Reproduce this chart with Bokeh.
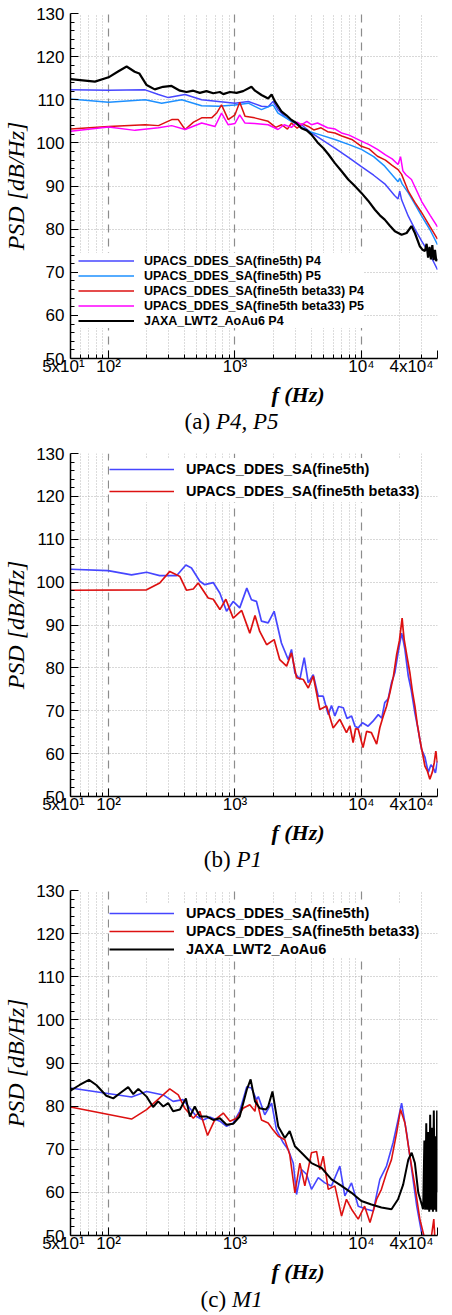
from bokeh.plotting import figure
from bokeh.models import (FixedTicker, Grid, Legend, LegendItem, Range1d)
from bokeh.layouts import column
from bokeh.embed import file_html
from bokeh.resources import INLINE
from bokeh.core.properties import value

# ---------------- data ----------------
X_MAJOR = [50, 100, 1000, 10000, 40000]
X_LABELS = {50: "5x10\u00b9\u00a0\u00a0\u00a0", 100: "10\u00b2", 1000: "10\u00b3",
            10000: "10\u2074", 40000: "4x10\u2074\u00a0\u00a0\u00a0\u00a0"}
X_MINOR = [60, 70, 80, 90, 200, 300, 400, 500, 600, 700, 800, 900,
           2000, 3000, 4000, 5000, 6000, 7000, 8000, 9000, 20000, 30000]
X_DOTTED = X_MINOR + [40000]
X_DASHED = [100, 1000, 10000]
Y_MAJOR = [50, 60, 70, 80, 90, 100, 110, 120, 130]
Y_MINOR = [52, 54, 56, 58, 62, 64, 66, 68, 72, 74, 76, 78, 82, 84, 86, 88,
           92, 94, 96, 98, 102, 104, 106, 108, 112, 114, 116, 118, 122, 124, 126, 128]
X_TITLE = "f (Hz)"
Y_TITLE = "PSD [dB/Hz]"
CAPTIONS = [("(a)", "P4, P5"), ("(b)", "P1"), ("(c)", "M1")]

# (a) P4, P5
A_BLACK_F = [50, 78, 100, 118, 139, 161, 175, 200, 232, 270, 315, 367, 414, 468, 527, 595, 673,
             760, 808, 912, 1030, 1160, 1350, 1440, 1620, 1830, 1950, 2070, 2330, 2550, 2800,
             3050, 3360, 3700, 4030, 4500, 4990, 5500, 6170, 6900, 7870, 8800, 10000, 11300,
             12800, 14000, 15300, 16800, 18400, 20800, 22800, 24900, 26500, 29000, 30500,
             31800, 32800, 33700, 34600, 35500, 36400, 37300, 38200, 39100, 40000]
A_BLACK = [114.8, 114.2, 115.2, 116.5, 117.7, 116.5, 116.1, 113.4, 112.4, 113.0, 113.2, 112.1,
           111.8, 112.1, 111.6, 112.0, 111.5, 111.8, 111.3, 111.8, 111.6, 112.0, 113.0, 112.1,
           111.1, 110.3, 111.2, 109.6, 107.3, 106.4, 105.3, 104.6, 103.4, 102.9, 101.9, 100.1,
           98.8, 97.3, 95.3, 93.6, 91.5, 90.1, 88.4, 86.6, 84.5, 83.2, 82.2, 80.8, 79.5, 78.7,
           79.1, 80.7, 79.1, 76.0, 75.2, 74.9, 76.6, 73.4, 75.9, 73.0, 76.3, 72.8, 75.2, 72.6, 73.2]
A_P4_F = [50, 100, 195, 248, 297, 403, 545, 738, 1000, 1275, 1620, 1830, 2000, 2190, 2500, 2800,
          3360, 4030, 5000, 6170, 8000, 10000, 12500, 15300, 18300, 19500, 20100, 20800, 23500,
          26500, 30000, 35000, 40000]
A_P4 = [112.3, 112.2, 112.3, 111.2, 110.5, 111.2, 110.0, 109.6, 109.2, 109.6, 108.5, 108.4,
        109.6, 107.7, 106.0, 105.0, 104.2, 102.3, 100.5, 98.8, 96.5, 94.5, 92.5, 90.5, 87.8,
        87.0, 88.8, 86.8, 83.0, 80.0, 77.2, 74.0, 70.6]
A_P5_F = [50, 100, 195, 263, 379, 545, 738, 1000, 1275, 1620, 2000, 2190, 2800, 3800, 4800,
          6170, 8000, 10000, 12500, 15300, 19500, 20100, 21000, 23500, 26500, 30000, 35000, 40000]
A_P5 = [110.2, 109.4, 110.0, 109.2, 110.0, 108.6, 108.5, 108.8, 109.2, 107.7, 108.8, 106.9,
        105.0, 102.7, 101.8, 100.8, 99.6, 98.5, 96.8, 94.6, 91.0, 91.8, 90.5, 88.4, 85.8, 83.0,
        79.8, 76.4]
A_B33P4_F = [50, 100, 195, 248, 316, 356, 403, 470, 545, 654, 720, 783, 885, 1000, 1090, 1200,
             1430, 1830, 2100, 2340, 2600, 2800, 3100, 3400, 3800, 4200, 4800, 5400, 6170, 7000,
             8400, 10000, 11500, 13400, 15500, 17500, 19500, 20800, 23500, 26500, 30000, 35000,
             40000]
A_B33P4 = [103.2, 103.8, 104.2, 104.0, 105.4, 105.4, 103.1, 104.8, 105.8, 105.8, 107.0, 108.8,
           105.4, 106.5, 109.4, 106.2, 105.8, 105.0, 103.6, 104.2, 103.2, 104.6, 103.4, 104.4,
           103.8, 103.0, 103.5, 102.6, 102.3, 101.6, 100.8, 99.2, 98.6, 96.9, 96.0, 94.8, 93.8,
           92.7, 88.8, 86.2, 83.8, 80.5, 77.7]
A_B33P5_F = [50, 100, 162, 248, 316, 403, 545, 695, 783, 885, 1000, 1090, 1200, 1430, 1830, 2190,
             2450, 2800, 3100, 3360, 3700, 4030, 4500, 5400, 6200, 6960, 8000, 10000, 11500,
             13400, 15500, 17500, 19500, 20400, 21300, 22500, 24900, 30000, 35000, 40000]
A_B33P5 = [102.7, 103.7, 102.9, 103.5, 104.0, 103.1, 104.6, 103.8, 106.9, 104.2, 104.5, 106.5,
           104.6, 104.5, 104.2, 103.1, 104.2, 103.6, 104.8, 104.2, 105.0, 104.2, 104.6, 103.5,
           103.2, 102.3, 101.8, 100.4, 99.6, 98.5, 97.2, 96.3, 95.0, 96.8, 93.5, 92.6, 91.5,
           86.4, 83.2, 80.5]

# (b) P1
B_FINE_F = [50, 99, 152, 200, 254, 345, 409, 453, 527, 577, 673, 760, 858, 968, 1090, 1240, 1350,
            1480, 1620, 1830, 2040, 2330, 2640, 2800, 2980, 3260, 3530, 3800, 4160, 4560, 4990,
            5470, 5800, 6170, 6600, 7190, 7700, 8360, 8900, 9440, 10200, 11300, 12300, 13600,
            14500, 15300, 16300, 17300, 18400, 19500, 20800, 21500, 22100, 23500, 24800, 26500,
            28000, 29900, 31800, 33800, 35500, 37000, 38500, 40000]
B_FINE = [103.0, 102.7, 101.7, 102.3, 101.5, 101.5, 104.0, 103.3, 100.2, 99.4, 99.9, 97.4, 93.2,
          95.5, 94.0, 98.6, 95.9, 95.5, 90.9, 90.5, 93.2, 85.8, 81.9, 84.3, 78.8, 77.3, 82.4,
          76.5, 78.4, 73.4, 73.4, 69.1, 71.2, 68.8, 71.0, 70.7, 68.2, 68.8, 66.4, 66.0, 67.2,
          66.4, 67.5, 69.1, 68.3, 71.9, 72.8, 76.5, 78.9, 83.5, 88.1, 86.2, 84.3, 78.1, 74.8,
          69.5, 65.9, 61.0, 59.2, 55.6, 57.4, 56.7, 55.5, 58.3]
B_B33_F = [50, 200, 254, 305, 367, 414, 468, 512, 614, 673, 760, 847, 968, 1130, 1310, 1440, 1570,
           1780, 2040, 2260, 2560, 2800, 3070, 3470, 3800, 4160, 4690, 5300, 5980, 6750, 7620,
           8100, 8600, 9000, 9440, 10300, 11000, 12000, 13200, 14000, 14900, 15800, 16800, 17900,
           19000, 20000, 21000, 21400, 21800, 23000, 24200, 25300, 26500, 27700, 29000, 30400,
           31800, 33300, 34800, 36500, 37700, 38800, 40000]
B_B33 = [98.1, 98.2, 99.8, 102.5, 101.3, 98.1, 98.4, 99.8, 96.3, 96.0, 93.6, 96.0, 91.6, 93.4,
         88.1, 92.2, 88.5, 85.4, 86.6, 81.9, 80.4, 83.5, 77.7, 77.3, 75.3, 78.1, 70.3, 71.1,
         66.0, 68.0, 64.9, 66.5, 62.6, 65.8, 65.7, 61.4, 65.2, 64.9, 62.2, 66.1, 68.8, 71.0,
         74.2, 77.9, 83.1, 86.4, 91.6, 88.9, 86.6, 82.5, 78.8, 74.6, 71.1, 66.8, 63.3, 60.2,
         57.1, 55.9, 54.0, 55.8, 57.9, 60.6, 57.9]

# (c) M1
C_FINE_F = [50, 152, 200, 271, 324, 389, 440, 496, 561, 633, 760, 858, 968, 1090, 1240, 1350,
            1480, 1530, 1720, 1950, 2130, 2410, 2640, 2890, 3070, 3360, 3680, 4030, 4560, 5140,
            5800, 6750, 7400, 8360, 9440, 11000, 12400, 14000, 15800, 17800, 19500, 20800,
            22800, 25000, 27400, 29900, 32000, 40000]
C_FINE = [84.2, 82.1, 83.4, 82.6, 81.1, 81.5, 79.5, 77.6, 76.8, 77.5, 76.5, 75.3, 76.1, 78.8,
          84.5, 84.2, 81.5, 82.2, 78.0, 80.7, 74.5, 71.5, 69.9, 66.8, 59.5, 65.3, 64.2, 60.7,
          63.4, 62.2, 61.5, 66.1, 59.2, 62.2, 56.8, 56.1, 55.7, 63.0, 66.1, 71.5, 76.8, 80.7,
          73.8, 65.3, 56.8, 50.7, 48.0, 45.0]
C_B33_F = [50, 152, 200, 305, 356, 401, 468, 527, 607, 692, 808, 912, 1030, 1160, 1310, 1440,
           1480, 1620, 1830, 2000, 2200, 2480, 2710, 2980, 3260, 3570, 4030, 4420, 4690, 4990,
           5470, 6170, 6970, 7620, 8360, 9440, 10600, 11700, 13200, 14400, 15800, 17300, 19000,
           20400, 22100, 24200, 26500, 29000, 30800, 33000, 35500, 37400, 38500, 40000]
C_B33 = [79.8, 77.0, 79.2, 84.0, 82.6, 79.5, 77.2, 78.8, 73.2, 76.8, 78.4, 76.5, 77.2, 79.5,
         80.3, 78.8, 81.5, 76.8, 76.1, 74.5, 73.0, 72.2, 68.8, 59.9, 66.8, 61.5, 69.2, 69.5,
         65.3, 68.4, 60.7, 61.5, 54.5, 58.4, 56.1, 53.8, 56.8, 53.0, 58.4, 60.7, 64.5, 67.6,
         73.8, 79.2, 76.1, 68.4, 61.5, 53.8, 50.7, 47.0, 49.0, 53.8, 47.0, 49.0]
C_JAXA_F = [50, 59, 70, 80, 96, 109, 123, 143, 157, 172, 200, 225, 247, 271, 296, 324, 367, 409,
            440, 481, 527, 595, 673, 760, 858, 968, 1090, 1240, 1330, 1440, 1570, 1750, 1830,
            1980, 2200, 2480, 2710, 2980, 3360, 4030, 4840, 5800, 6970, 8360, 10000, 12000,
            14400, 17300, 19500, 21400, 23500, 25000, 26500, 28200, 30800, 31500, 32000, 32600,
            33200, 33800, 34400, 35000, 35600, 36200, 36800, 37400, 38000, 38600, 39200, 39700,
            40000]
C_JAXA = [83.6, 84.9, 86.1, 84.9, 82.4, 81.8, 83.0, 84.4, 82.8, 84.0, 82.2, 79.8, 81.1, 79.9,
          80.7, 78.8, 79.2, 81.8, 77.6, 79.9, 77.6, 77.6, 76.8, 77.2, 75.7, 75.9, 77.6, 83.8,
          86.2, 81.1, 79.5, 79.2, 79.9, 83.4, 75.3, 72.6, 74.2, 70.7, 69.2, 66.8, 65.7, 63.0,
          61.5, 59.9, 58.0, 57.2, 56.5, 56.1, 58.4, 61.8, 67.6, 69.2, 66.8, 59.9, 56.1, 72.0,
          56.0, 76.0, 56.0, 74.0, 55.5, 78.0, 56.0, 75.0, 55.5, 79.0, 56.0, 73.0, 55.5, 79.0, 60.0]

BLUE = "#4646ff"
LIGHTBLUE = "#1e90ff"
RED = "#dd1111"
MAGENTA = "#ff00ff"
BLACK = "#000000"

SANS = "Liberation Sans"
SERIF = "Liberation Serif"


def base_fig(height, top, frame_h):
    bottom = height - top - frame_h
    p = figure(width=452, height=height, x_axis_type="log",
               x_range=Range1d(50, 40000), y_range=Range1d(50, 130),
               output_backend="svg", toolbar_location=None,
               min_border_left=69, min_border_right=15,
               min_border_top=top, min_border_bottom=bottom)
    p.outline_line_color = None
    xa = p.xaxis[0]
    xa.ticker = FixedTicker(ticks=X_MAJOR, minor_ticks=X_MINOR)
    xa.major_label_overrides = X_LABELS
    xa.major_label_text_font = SANS
    xa.major_label_text_font_size = "17px"
    xa.major_label_text_color = "black"
    xa.major_label_standoff = -2
    xa.major_tick_in = 8
    xa.major_tick_out = 0
    xa.minor_tick_in = 4
    xa.minor_tick_out = 0
    xa.axis_line_width = 1.5
    # leading no-break spaces shift the centred title to the right, as in the original
    xa.axis_label = "\u00a0" * 16 + X_TITLE
    xa.axis_label_text_font = SERIF
    xa.axis_label_text_font_style = "bold italic"
    xa.axis_label_text_font_size = "22px"
    xa.axis_label_text_color = "black"
    xa.axis_label_standoff = 3
    ya = p.yaxis[0]
    ya.ticker = FixedTicker(ticks=Y_MAJOR, minor_ticks=Y_MINOR)
    ya.major_label_text_font = SANS
    ya.major_label_text_font_size = "17px"
    ya.major_label_text_color = "black"
    ya.major_label_standoff = 6
    ya.major_tick_in = 8
    ya.major_tick_out = 0
    ya.minor_tick_in = 4
    ya.minor_tick_out = 0
    ya.axis_line_width = 1.5
    ya.axis_label = Y_TITLE
    ya.axis_label_text_font = SERIF
    ya.axis_label_text_font_style = "italic"
    ya.axis_label_text_font_size = "24px"
    ya.axis_label_text_color = "black"
    ya.axis_label_standoff = 4
    # grids
    p.ygrid.grid_line_color = "#b0b0b0"
    p.ygrid.grid_line_dash = "1 2"
    p.ygrid.grid_line_width = 1
    p.xgrid.ticker = FixedTicker(ticks=X_DOTTED)
    p.xgrid.grid_line_color = "#b8b8b8"
    p.xgrid.grid_line_dash = "1 2"
    p.xgrid.grid_line_width = 1
    g = Grid(dimension=0, ticker=FixedTicker(ticks=X_DASHED),
             grid_line_color="#8c8c8c", grid_line_dash="8 6", grid_line_width=1.2)
    p.add_layout(g)
    return p


def caption_fig(height, cap, f_end, f_start, y):
    # caption strip sharing the panel's horizontal (log-frequency) mapping
    tag, name = cap
    c = figure(width=452, height=height, x_axis_type="log",
               x_range=Range1d(50, 40000), y_range=Range1d(0, height),
               output_backend="svg", toolbar_location=None,
               min_border_left=69, min_border_right=15, min_border_top=0, min_border_bottom=0,
               x_axis_location=None, y_axis_location=None)
    c.outline_line_color = None
    c.xgrid.visible = False
    c.ygrid.visible = False
    c.text(x=[f_end], y=[y], text=[tag], text_font=value(SERIF), text_font_size=value("23px"),
           text_align="right", text_baseline="middle", text_color="black")
    c.text(x=[f_start], y=[y], text=[name], text_font=value(SERIF),
           text_font_style=value("italic"), text_font_size=value("23px"),
           text_align="left", text_baseline="middle", text_color="black")
    return c


def legend(p, items, loc, fs, gw, gh, standoff):
    lg = Legend(items=[LegendItem(label=l, renderers=[r]) for l, r in items],
                location=loc, background_fill_color="white", background_fill_alpha=1.0,
                border_line_color=None, label_text_font=SANS, label_text_font_style="bold",
                label_text_font_size=fs, label_text_color="black", glyph_width=gw,
                glyph_height=gh, label_height=gh, label_standoff=standoff, spacing=0,
                padding=2, margin=0)
    p.add_layout(lg)


# ---------------- panel (a) ----------------
pa = base_fig(409, 13, 346)
ra1 = pa.line(A_P4_F, A_P4, line_color=BLUE, line_width=1.5)
ra2 = pa.line(A_P5_F, A_P5, line_color=LIGHTBLUE, line_width=1.5)
ra3 = pa.line(A_B33P4_F, A_B33P4, line_color=RED, line_width=1.5)
ra4 = pa.line(A_B33P5_F, A_B33P5, line_color=MAGENTA, line_width=1.5)
ra5 = pa.line(A_BLACK_F, A_BLACK, line_color=BLACK, line_width=2.2)
legend(pa, [("UPACS_DDES_SA(fine5th) P4", ra1), ("UPACS_DDES_SA(fine5th) P5", ra2),
            ("UPACS_DDES_SA(fine5th beta33) P4", ra3), ("UPACS_DDES_SA(fine5th beta33) P5", ra4),
            ("JAXA_LWT2_AoAu6 P4", ra5)], (8, 30), "12.5px", 56, 15, 10)
ca = caption_fig(29, CAPTIONS[0], 635, 708, 17.5)

# ---------------- panel (b) ----------------
pb = base_fig(409, 15, 344)
rb1 = pb.line(B_FINE_F, B_FINE, line_color=BLUE, line_width=1.7)
rb2 = pb.line(B_B33_F, B_B33, line_color=RED, line_width=1.7)
legend(pb, [("UPACS_DDES_SA(fine5th)", rb1), ("UPACS_DDES_SA(fine5th beta33)", rb2)],
       (39, 294), "14.5px", 65, 22, 12)
cb = caption_fig(29, CAPTIONS[1], 923, 1028, 17.5)

# ---------------- panel (c) ----------------
pc = base_fig(410, 14, 346)
rc1 = pc.line(C_FINE_F, C_FINE, line_color=BLUE, line_width=1.6)
rc2 = pc.line(C_B33_F, C_B33, line_color=RED, line_width=1.6)
rc3 = pc.line(C_JAXA_F, C_JAXA, line_color=BLACK, line_width=2.0)
legend(pc, [("UPACS_DDES_SA(fine5th)", rc1), ("UPACS_DDES_SA(fine5th beta33)", rc2),
            ("JAXA_LWT2_AoAu6", rc3)], (39, 277), "14.5px", 65, 18, 12)
cc = caption_fig(29, CAPTIONS[2], 851, 948, 16)

layout = column(pa, ca, pb, cb, pc, cc, spacing=0)
open("out.html", "w").write(file_html(layout, INLINE))
